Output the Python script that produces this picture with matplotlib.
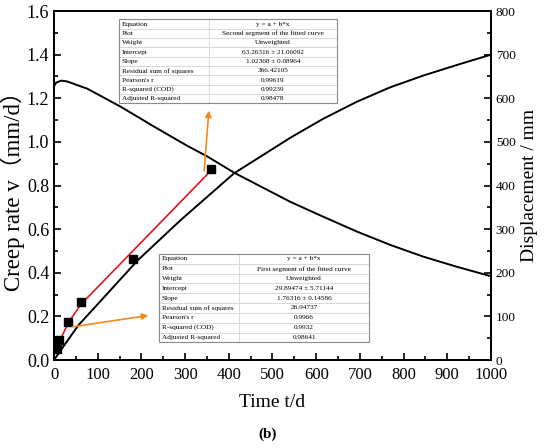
import matplotlib.pyplot as plt
from matplotlib.patches import Rectangle
from matplotlib.ticker import MultipleLocator

plt.rcParams['font.family'] = ['Liberation Serif', 'Noto Sans CJK SC']

# creep rate curve (left axis, mm/d)
rate_t = [0, 5, 17, 30, 76, 152, 229, 305, 351, 412, 540, 616, 693, 769, 845, 921, 1000]
rate_v = [1.255, 1.272, 1.281, 1.277, 1.244, 1.162, 1.070, 0.982, 0.933, 0.859,
          0.726, 0.657, 0.589, 0.528, 0.474, 0.428, 0.384]

# displacement curve (right axis, mm)
disp_t = [0, 20, 56, 100, 191, 289, 412, 540, 616, 693, 769, 845, 921, 1000]
disp_mm = [0, 29, 80, 128, 228, 320, 428, 509, 553, 592, 625, 652, 676, 700]

# measured points and piecewise fit (right axis, mm)
meas_t = [7, 12, 33, 62, 181, 360]
meas_mm = [25, 46, 86, 134, 232, 438]
fit_t = [8, 33, 62, 358]
fit_mm = [33, 86, 128, 433]

labels = ['Equation', 'Plot', 'Weight', 'Intercept', 'Slope',
          'Residual sum of squares', "Pearson's r", 'R-squared (COD)',
          'Adjusted R-squared']
values_second = ['y = a + b*x', 'Second segment of the fitted curve', 'Unweighted',
                 '63.26316 \u00b1 21.06092', '1.02368 \u00b1 0.08964', '366.42105',
                 '0.99619', '0.99239', '0.98478']
values_first = ['y = a + b*x', 'First segment of the fitted curve', 'Unweighted',
                '29.89474 \u00b1 5.71144', '1.76316 \u00b1 0.14586', '26.94737',
                '0.9966', '0.9932', '0.98641']

fig = plt.figure(figsize=(5.5, 4.48), dpi=100)
ax = fig.add_axes([0.0982, 0.1964, 0.7945, 0.779])
ax2 = ax.twinx()

ax.plot(rate_t, rate_v, color='black', lw=1.4)
ax2.plot(disp_t, disp_mm, color='black', lw=1.4)
ax2.plot(fit_t, fit_mm, color='#e8141c', lw=1.2)
ax2.plot(meas_t, meas_mm, 's', color='black', ms=6)

ax.set_xlim(0, 1000)
ax.set_ylim(0, 1.6)
ax2.set_ylim(0, 800)

ax.xaxis.set_major_locator(MultipleLocator(100))
ax.xaxis.set_minor_locator(MultipleLocator(50))
ax.yaxis.set_major_locator(MultipleLocator(0.2))
ax.yaxis.set_minor_locator(MultipleLocator(0.1))
ax2.yaxis.set_major_locator(MultipleLocator(100))
ax2.yaxis.set_minor_locator(MultipleLocator(50))

ax.tick_params(axis='both', which='both', direction='in', width=1.2)
ax.tick_params(which='major', length=5)
ax.tick_params(which='minor', length=3)
ax.tick_params(axis='x', labelsize=12, pad=5)
ax.tick_params(axis='y', labelsize=13)
ax2.tick_params(axis='y', which='both', direction='in', width=1.2, labelsize=9.5)
ax2.tick_params(which='major', length=5)
ax2.tick_params(which='minor', length=3)
ax.yaxis.set_major_formatter(plt.FuncFormatter(lambda v, p: f'{v:.1f}'))
for a in (ax, ax2):
    for s in a.spines.values():
        s.set_linewidth(1.3)

ax.set_xlabel('Time t/d', fontsize=14, labelpad=8)
ax.set_ylabel('Creep rate v\uff08mm/d\uff09', fontsize=16.5, labelpad=1)
ax2.set_ylabel('Displacement / mm', fontsize=14, labelpad=4)
fig.text(0.487, 0.031, '(b)', fontsize=11, fontweight='bold', ha='center', va='center')

orange = '#f5891f'
ax2.annotate('', xy=(222, 103), xytext=(35, 75),
             arrowprops=dict(arrowstyle='-|>', color=orange, lw=1.2, mutation_scale=9))
ax2.annotate('', xy=(355, 578), xytext=(343, 427),
             arrowprops=dict(arrowstyle='-|>', color=orange, lw=1.2, mutation_scale=9))


def draw_table(axis, vals, bbox, split):
    tb = axis.table(cellText=[[l, v] for l, v in zip(labels, vals)],
                    colWidths=[split, 1 - split], bbox=bbox, zorder=10)
    tb.auto_set_font_size(False)
    for (r, c), cell in tb.get_celld().items():
        cell.set_edgecolor('#d4d4d4')
        cell.set_linewidth(0.6)
        cell.set_facecolor('white')
        txt = cell.get_text()
        txt.set_fontsize(5.2)
        txt.set_fontfamily('Liberation Serif')
        if c == 0:
            cell.set_text_props(ha='left')
            cell.PAD = 0.03
        else:
            cell.set_text_props(ha='center')
    axis.add_patch(Rectangle((bbox[0], bbox[1]), bbox[2], bbox[3], transform=axis.transAxes,
                             fill=False, edgecolor='#8a8a8a', lw=0.8, zorder=11))


draw_table(ax2, values_second, [0.149, 0.7355, 0.499, 0.2405], 0.41)
draw_table(ax2, values_first, [0.241, 0.0507, 0.48, 0.253], 0.38)

fig.savefig('out.png', dpi=100)
